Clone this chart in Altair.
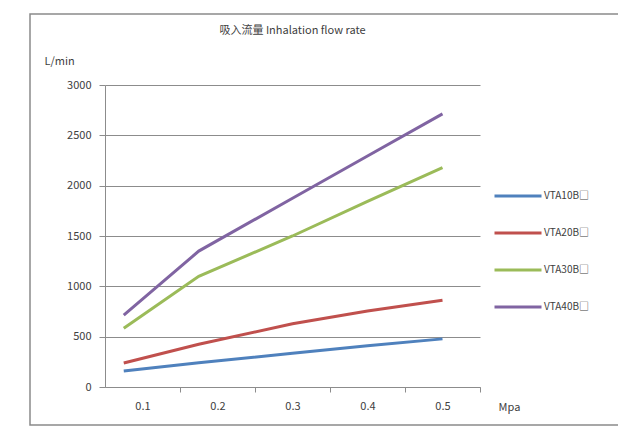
import altair as alt
import pandas as pd

series = ["VTA10B□", "VTA20B□", "VTA30B□", "VTA40B□"]
colors = ["#4F81BD", "#C0504D", "#9BBB59", "#8064A2"]
pressure = [0.075, 0.175, 0.3, 0.4, 0.5]
vta10 = [158, 240, 335, 410, 478]
vta20 = [238, 425, 628, 755, 861]
vta30 = [584, 1100, 1500, 1845, 2180]
vta40 = [713, 1350, 1875, 2295, 2713]
x_ticks = [0.1, 0.2, 0.3, 0.4, 0.5]
y_ticks = [0, 500, 1000, 1500, 2000, 2500, 3000]

rows = []
for name, vals in zip(series, [vta10, vta20, vta30, vta40]):
    for p, v in zip(pressure, vals):
        rows.append({"series": name, "p": p, "flow": v})
df = pd.DataFrame(rows)

FONT = "Noto Sans CJK SC"
GRAY = "#8c8c8c"
TXT = "#404040"

border = alt.Chart(pd.DataFrame({"a": [0]})).mark_rect(
    fill=None, stroke="#8a8a8a", strokeWidth=1.5, clip=False
).encode(
    x=alt.value(-75), x2=alt.value(520), y=alt.value(-71), y2=alt.value(340)
)

lines = alt.Chart(df).mark_line(strokeWidth=3, clip=False).encode(
    x=alt.X(
        "p:Q",
        scale=alt.Scale(domain=[0.05, 0.55], nice=False, zero=False),
        axis=alt.Axis(
            values=x_ticks, format=".1f", grid=False, tickOffset=37.5, labelOffset=-37.5,
            tickSize=5, tickColor=GRAY, domainColor=GRAY, labelColor=TXT, labelFontSize=11,
            labelFont=FONT, labelPadding=8, title="Mpa", titleX=404, titleY=20,
            titleAlign="center", titleBaseline="middle", titleFontWeight="normal",
            titleFontSize=11, titleFont=FONT, titleColor=TXT,
        ),
    ),
    y=alt.Y(
        "flow:Q",
        scale=alt.Scale(domain=[0, 3000], nice=False),
        axis=alt.Axis(
            values=y_ticks, format="d", grid=True, gridColor=GRAY, tickSize=6, tickColor=GRAY,
            domainColor=GRAY, labelColor=TXT, labelFontSize=11, labelFont=FONT,
            labelPadding=8, title="L/min", titleAngle=0, titleX=-61, titleY=-24,
            titleAlign="left", titleBaseline="middle", titleFontWeight="normal",
            titleFontSize=11, titleFont=FONT, titleColor=TXT,
        ),
    ),
    color=alt.Color(
        "series:N",
        scale=alt.Scale(domain=series, range=colors),
        legend=alt.Legend(
            title=None, orient="none", legendX=388, legendY=86, symbolType="stroke",
            symbolSize=2209, symbolStrokeWidth=3, labelFontSize=10, labelFont=FONT,
            labelColor=TXT, rowPadding=6, labelOffset=1,
        ),
    ),
    detail="series:N",
)

chart = alt.layer(border, lines).properties(
    width=375,
    height=302,
    autosize=alt.AutoSizeParams(type="none"),
    padding={"left": 97, "top": 77, "right": 138, "bottom": 39},
    title=alt.TitleParams(
        "吸入流量 Inhalation flow rate", font=FONT, fontSize=11, fontWeight="normal",
        color=TXT, anchor="middle", offset=16, dy=39,
    ),
).configure_view(stroke=None)

chart.save("out.html", embed_options={"renderer": "svg", "actions": False})
